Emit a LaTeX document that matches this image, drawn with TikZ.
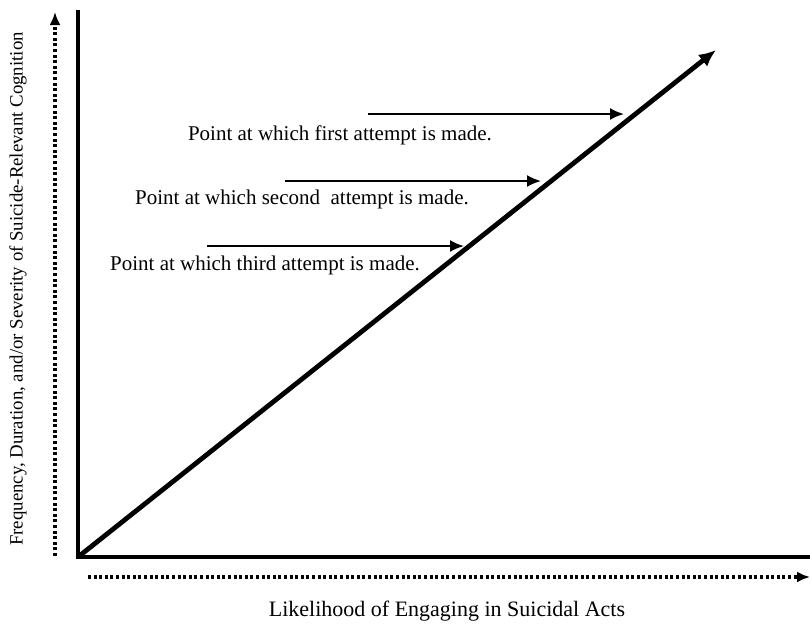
\documentclass[tikz,border=0pt]{standalone}
\usepackage{fontspec}
\setmainfont{Liberation Serif}
\usetikzlibrary{arrows.meta}

\tikzset{
  axis/.style={line width=2pt},
  dotaxis/.style={line width=1.8pt,dash pattern=on 1.5pt off 1.3pt,-{Latex[length=6.5pt,width=5.5pt]}},
  pointer/.style={line width=1pt,-{Latex[length=7pt,width=6pt]}},
  caption/.style={font=\fontsize{10.5}{12}\selectfont,inner sep=0pt}
}

\begin{document}
\begin{tikzpicture}[x=0.5pt,y=-0.5pt]
  \useasboundingbox (0,0) rectangle (810,623);
  % axes
  \coordinate (origin) at (78,557);
  \coordinate (ytop) at (78,10);
  \coordinate (xend) at (810,557);
  \draw[axis] (ytop)--(origin)--(xend);
  \coordinate (peak) at (716,50);
  \draw[line width=2.4pt,-{Latex[length=8.5pt,width=7.5pt]}] (origin)--(peak);
  % dotted axes
  \coordinate (ydot0) at (55,556);
  \coordinate (ydot1) at (55,12);
  \draw[dotaxis] (ydot0)--(ydot1);
  \coordinate (xdot0) at (88,577);
  \coordinate (xdot1) at (810,577);
  \draw[dotaxis] (xdot0)--(xdot1);
  \node[font=\fontsize{11}{13}\selectfont] (xlab) at (447,611) {Likelihood of Engaging in Suicidal Acts};
  \node[rotate=90,font=\fontsize{9.4}{11}\selectfont] (ylab) at (18,289) {Frequency, Duration, and/or Severity of Suicide-Relevant Cognition};
  % attempts
  \coordinate (a1) at (368,114); \coordinate (b1) at (624,114);
  \coordinate (a2) at (285,181); \coordinate (b2) at (541,181);
  \coordinate (a3) at (207,246); \coordinate (b3) at (464,246);
  \draw[pointer] (a1)--(b1);
  \draw[pointer] (a2)--(b2);
  \draw[pointer] (a3)--(b3);
  \node[caption] (first) at (340,135) {Point at which first attempt is made.};
  \node[caption] (second) at (302,199) {Point at which second\ \ attempt is made.};
  \node[caption] (third) at (265,265) {Point at which third attempt is made.};
\end{tikzpicture}
\end{document}
